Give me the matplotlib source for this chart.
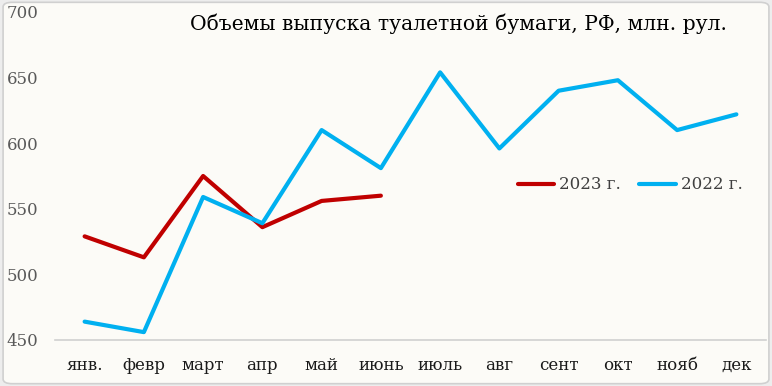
import matplotlib.pyplot as plt
from matplotlib.patches import FancyBboxPatch

months = ['янв.', 'февр', 'март', 'апр', 'май', 'июнь', 'июль', 'авг', 'сент', 'окт', 'нояб', 'дек']
vals_2022 = [464, 456, 559, 539, 610, 581, 654, 596, 640, 648, 610, 622]
vals_2023 = [529, 513, 575, 536, 556, 560]
title = 'Объемы выпуска туалетной бумаги, РФ, млн. рул.'

bg = '#FCFBF7'
plt.rcParams['font.family'] = ['DejaVu Serif']

fig = plt.figure(figsize=(7.72, 3.86), dpi=100, facecolor='#EDEDED')
# rounded frame around the chart, behind the axes
frame = FancyBboxPatch((0.004, 0.006), 0.992, 0.988, boxstyle='round,pad=0,rounding_size=0.012',
                       transform=fig.transFigure, facecolor=bg, edgecolor='#D0D0D0',
                       linewidth=1.2, zorder=-10)
fig.patches.append(frame)

ax = fig.add_axes([55 / 772, 1 - 340 / 386, 711 / 772, 328 / 386])
ax.set_facecolor('none')
ax.set_zorder(1)

x22 = range(len(vals_2022))
x23 = range(len(vals_2023))
ax.plot(x23, vals_2023, color='#C00000', lw=3, solid_capstyle='round', label='2023 г.')
ax.plot(x22, vals_2022, color='#00B0F0', lw=3, solid_capstyle='round', label='2022 г.')

ax.set_xlim(-0.5, 11.5)
ax.set_ylim(450, 700)
ax.set_yticks(range(450, 701, 50))
ax.set_xticks(list(x22))
ax.set_xticklabels(months)

for s in ['top', 'right', 'left']:
    ax.spines[s].set_visible(False)
ax.spines['bottom'].set_color('#D0D0D0')
ax.spines['bottom'].set_linewidth(1.2)
ax.tick_params(axis='both', length=0)
ax.tick_params(axis='y', labelsize=12, labelcolor='#595959', pad=12)
ax.tick_params(axis='x', labelsize=12, labelcolor='#1a1a1a', pad=12)

ax.text(0.945, 0.963, title, transform=ax.transAxes, ha='right', va='center',
        fontsize=14.6, color='black')

ax.legend(loc='center', bbox_to_anchor=(0.809, 0.473), ncol=2, frameon=False,
          fontsize=12, handlelength=2.2, columnspacing=1.1, handletextpad=0.3,
          labelcolor='#404040')

fig.savefig('out.png', dpi=100, facecolor=fig.get_facecolor())
